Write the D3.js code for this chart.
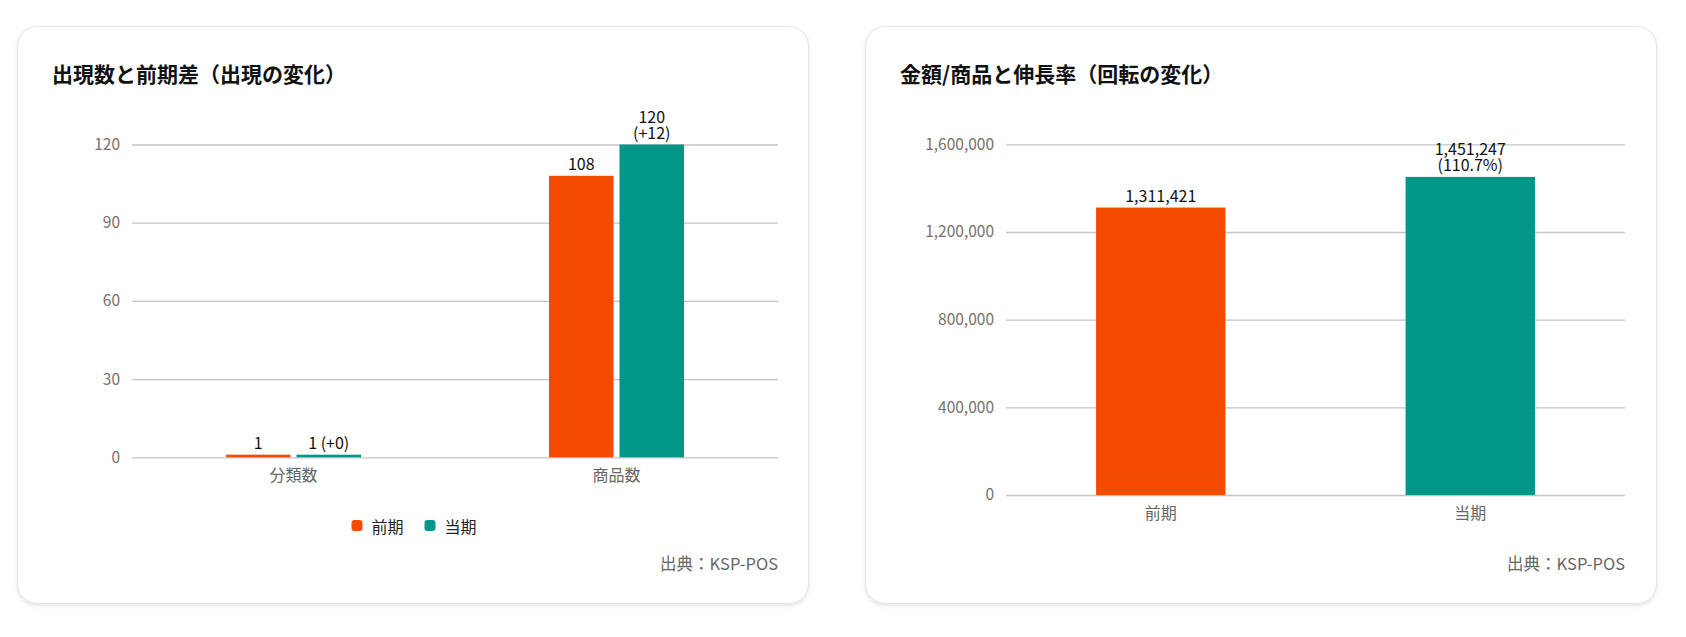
<!DOCTYPE html>
<html lang="ja">
<head>
<meta charset="utf-8">
<script src="https://cdn.jsdelivr.net/npm/d3@7.9.0/dist/d3.min.js"></script>
<style>
  html, body { margin: 0; padding: 0; background: #fff; }
  body { width: 1686px; height: 637px; position: relative; overflow: hidden;
         font-family: "Noto Sans CJK JP", "Noto Sans", sans-serif; }
  .card { position: absolute; top: 26px; width: 792px; height: 578px; box-sizing: border-box;
          background: #fff; border: 1px solid #e4e4e4; border-radius: 20px;
          box-shadow: 0 2px 4px rgba(0,0,0,0.10); }
  .card svg { position: absolute; left: 0; top: 0; overflow: visible; }
</style>
</head>
<body>
<div class="card" id="card-count" style="left:17px"></div>
<div class="card" id="card-amount" style="left:865px"></div>
<script>
// 左：出現数と前期差
const countTitle = '出現数と前期差（出現の変化）';
const countCategories = ['分類数', '商品数'];
const countPrev = [1, 108];
const countCurr = [1, 120];
const countTicks = [0, 30, 60, 90, 120];

// 右：金額/商品と伸長率
const amountTitle = '金額/商品と伸長率（回転の変化）';
const amountCategories = ['前期', '当期'];
const amountValues = [1311421, 1451247];
const amountTicks = [0, 400000, 800000, 1200000, 1600000];

const seriesNames = ['前期', '当期'];
const colors = ['#f54b00', '#009688'];
const sourceText = '出典：KSP-POS';

const W = 792, H = 578;
const fmt = d3.format(',');

function setupCard(id, title, plot) {
  const svg = d3.select(id).append('svg').attr('width', W).attr('height', H);
  svg.append('text')
    .attr('x', 34).attr('y', 46).attr('dominant-baseline', 'central')
    .attr('font-size', 21).attr('font-weight', 700).attr('fill', '#111')
    .text(title);
  svg.append('text')
    .attr('x', plot.right).attr('y', 536).attr('dominant-baseline', 'central')
    .attr('text-anchor', 'end').attr('font-size', 16.5).attr('fill', '#666')
    .text(sourceText);
  return svg;
}

function drawAxes(svg, x, y, ticks, plot) {
  const grid = svg.append('g')
    .attr('transform', `translate(${plot.left},0)`)
    .call(d3.axisLeft(y).tickValues(ticks).tickSize(-(plot.right - plot.left)).tickPadding(12)
      .tickFormat(fmt));
  grid.select('.domain').remove();
  grid.selectAll('line').attr('stroke', '#c4c4c4').attr('stroke-width', 1.3);
  grid.selectAll('text').attr('font-size', 15.5).attr('fill', '#7a7070')
    .attr('font-family', '"Noto Sans CJK JP", sans-serif');

  const xa = svg.append('g')
    .attr('transform', `translate(0,${plot.bottom})`)
    .call(d3.axisBottom(x).tickSize(0).tickPadding(17));
  xa.select('.domain').remove();
  xa.selectAll('text').attr('font-size', 16).attr('fill', '#666')
    .attr('font-family', '"Noto Sans CJK JP", sans-serif')
    .attr('dy', null).attr('dominant-baseline', 'central');
}

// 値ラベル：棒の幅に収まらなければ2行に折り返す
function drawLabel(g, cx, top, main, extra, maxW) {
  const t = g.append('text').attr('x', cx).attr('text-anchor', 'middle')
    .attr('font-size', 16).attr('fill', '#111').attr('dominant-baseline', 'central');
  const one = extra ? `${main} ${extra}` : main;
  t.text(one);
  if (extra && t.node().getComputedTextLength() > maxW - 10) {
    t.text(null);
    t.append('tspan').attr('x', cx).attr('y', top - 12.5 - 16.5).text(main);
    t.append('tspan').attr('x', cx).attr('y', top - 12.5).text(extra);
  } else {
    t.attr('y', top - 12.5);
  }
}

// ---- 左カード
{
  const plot = { left: 114, right: 760, top: 117.5, bottom: 430.3 };
  const svg = setupCard('#card-count', countTitle, plot);
  const x = d3.scaleBand().domain(countCategories).range([plot.left, plot.right]).paddingInner(0).paddingOuter(0);
  const y = d3.scaleLinear().domain([0, 120]).range([plot.bottom, plot.top]);
  drawAxes(svg, x, y, countTicks, plot);

  const groupW = x.bandwidth() * 0.418;
  const xs = d3.scaleBand().domain(seriesNames).range([0, groupW]).paddingInner(0.085);
  const rows = countCategories.map((c, i) => ({ c, vals: [countPrev[i], countCurr[i]] }));
  const bars = svg.append('g');
  rows.forEach((r) => {
    const x0 = x(r.c) + (x.bandwidth() - groupW) / 2;
    r.vals.forEach((v, k) => {
      const bx = x0 + xs(seriesNames[k]);
      bars.append('rect').attr('x', bx).attr('y', y(v)).attr('width', xs.bandwidth())
        .attr('height', y(0) - y(v)).attr('fill', colors[k]);
      const diff = r.vals[1] - r.vals[0];
      const extra = k === 1 ? `(${diff >= 0 ? '+' : ''}${diff})` : null;
      drawLabel(bars, bx + xs.bandwidth() / 2, y(v), fmt(v), extra, xs.bandwidth());
    });
  });

  // 凡例
  const lg = svg.append('g');
  let lx = 0;
  seriesNames.forEach((s, k) => {
    lg.append('rect').attr('x', lx).attr('y', 498.5 - 5.5).attr('width', 11).attr('height', 11)
      .attr('rx', 3).attr('fill', colors[k]);
    const t = lg.append('text').attr('x', lx + 20).attr('y', 498.5).attr('dominant-baseline', 'central')
      .attr('font-size', 16).attr('fill', '#222').text(s);
    lx += 20 + t.node().getComputedTextLength() + 21;
  });
  const lw = lx - 21;
  lg.attr('transform', `translate(${(W - lw) / 2},0)`);
}

// ---- 右カード
{
  const plot = { left: 140, right: 759, top: 117.3, bottom: 468 };
  const svg = setupCard('#card-amount', amountTitle, plot);
  const x = d3.scaleBand().domain(amountCategories).range([plot.left, plot.right]);
  const y = d3.scaleLinear().domain([0, 1600000]).range([plot.bottom, plot.top]);
  drawAxes(svg, x, y, amountTicks, plot);

  const bw = x.bandwidth() * 0.418;
  const bars = svg.append('g');
  amountCategories.forEach((c, i) => {
    const v = amountValues[i];
    const bx = x(c) + (x.bandwidth() - bw) / 2;
    bars.append('rect').attr('x', bx).attr('y', y(v)).attr('width', bw)
      .attr('height', y(0) - y(v)).attr('fill', colors[i]);
    const extra = i > 0 ? `(${d3.format('.1f')(v / amountValues[0] * 100)}%)` : null;
    drawLabel(bars, bx + bw / 2, y(v), fmt(v), extra, bw);
  });
}
</script>
</body>
</html>
